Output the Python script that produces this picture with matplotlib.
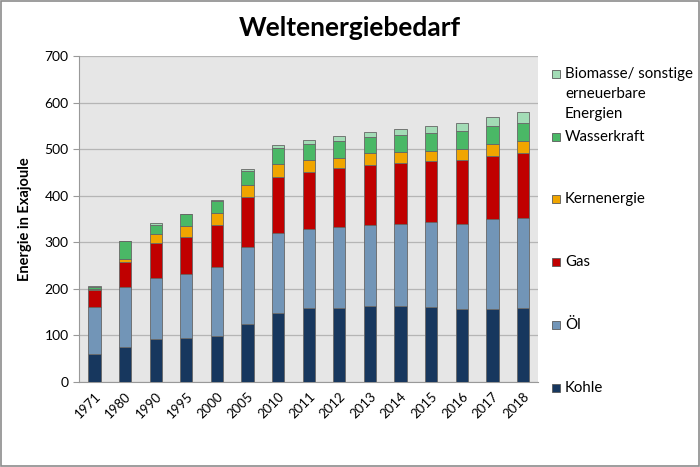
import matplotlib
matplotlib.use("Agg")
import matplotlib.pyplot as plt
from matplotlib.patches import Rectangle
import numpy as np

plt.rcParams['font.family'] = ['Lato', 'DejaVu Sans']

# Daten (Exajoule)
jahre = ['1971', '1980', '1990', '1995', '2000', '2005', '2010', '2011',
         '2012', '2013', '2014', '2015', '2016', '2017', '2018']
kohle = [60, 75, 93, 94, 98, 124, 148, 158, 158, 163, 164, 161, 156, 156, 158]
oel = [101, 129, 131, 137, 149, 166, 172, 170, 174, 175, 176, 182, 184, 193, 194]
gas = [37, 53, 74, 81, 91, 108, 121, 123, 127, 129, 130, 131, 136, 137, 139]
kern = [2, 7, 20, 22, 25, 26, 28, 25, 22, 24, 24, 23, 24, 26, 26]
wasser = [5, 38, 20, 26, 26, 30, 33, 35, 37, 35, 36, 38, 38, 38, 40]
biomasse = [1, 1, 3, 1, 2, 3, 7, 8, 10, 11, 14, 14, 18, 20, 23]

serien = [kohle, oel, gas, kern, wasser, biomasse]
namen = ['Kohle', 'Öl', 'Gas', 'Kernenergie', 'Wasserkraft',
         'Biomasse/ sonstige\nerneuerbare\nEnergien']
farben = ['#17375e', '#7295b7', '#c00000', '#f0a500', '#4ab866', '#a3dcb6']

fig = plt.figure(figsize=(7, 4.67), dpi=100)
ax = fig.add_axes([0.113, 0.182, 0.656, 0.698])
ax.set_facecolor('#e6e6e6')

x = np.arange(len(jahre))
unten = np.zeros(len(jahre))
for werte, farbe in zip(serien, farben):
    ax.bar(x, werte, width=0.4, bottom=unten, color=farbe,
           edgecolor='#666666', linewidth=0.6, zorder=3)
    unten += np.array(werte)

ax.set_xlim(-0.5, len(jahre) - 0.5)
ax.set_ylim(0, 700)
ax.set_yticks(range(0, 701, 100))
ax.yaxis.grid(True, color='#b5b5b5', linewidth=0.9, zorder=0)
ax.set_xticks(x)
ax.set_xticklabels(jahre, rotation=45, ha='right', rotation_mode='anchor',
                   fontsize=9.5)
ax.tick_params(axis='y', labelsize=10, length=4, color='#999999')
ax.tick_params(axis='x', length=0, pad=6)
for s in ['top', 'right']:
    ax.spines[s].set_visible(False)
ax.spines['left'].set_color('#999999')
ax.spines['bottom'].set_color('#999999')

ax.set_ylabel('Energie in Exajoule', fontsize=10.5, fontweight='bold',
              labelpad=9)
fig.text(0.499, 0.939, 'Weltenergiebedarf', fontsize=19, fontweight='bold',
         ha='center', va='center')

# Legende wie im Original (ungleiche Abstände)
leg_y = [388, 325, 262, 199, 137, 74]
for name, farbe, py in zip(namen, farben, leg_y):
    fy = 1 - py / 467
    fig.patches.append(Rectangle((552 / 700, fy - 4 / 467), 8 / 700, 8 / 467,
                                 transform=fig.transFigure,
                                 facecolor=farbe, edgecolor='#5a5a5a',
                                 linewidth=0.6))
    fig.text(565 / 700, fy + 7 / 467, name, fontsize=10.8, ha='left', va='top',
             linespacing=1.55)

# Rahmen um das Diagramm
fig.patches.append(Rectangle((0.002, 0.003), 0.996, 0.994,
                             transform=fig.transFigure, fill=False,
                             edgecolor='#8c8c8c', linewidth=1.2))

fig.savefig('out.png', dpi=100)
